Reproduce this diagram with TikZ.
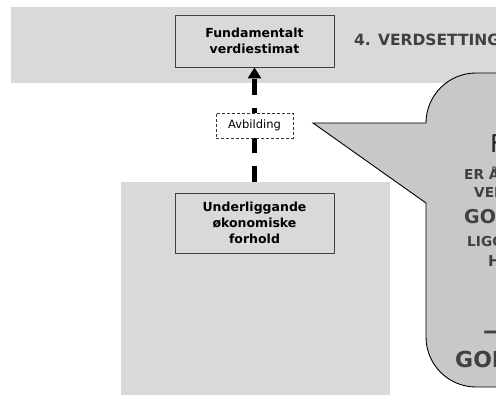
\documentclass[tikz,border=0pt]{standalone}
\usepackage{fontspec}
\setmainfont{DejaVu Sans}
\usetikzlibrary{arrows.meta}
\definecolor{band}{RGB}{217,217,217}
\definecolor{bubble}{RGB}{200,200,200}
\definecolor{txt}{RGB}{64,64,64}
\definecolor{edge}{RGB}{64,64,64}
\tikzset{
  panel/.style={fill=band, draw=none},
  stepbox/.style={draw=edge, line width=0.9pt, fill=band, minimum width=159pt,
    inner sep=0pt, align=center, font=\bfseries\fontsize{12.5}{16}\selectfont},
  tag/.style={draw=black!80, line width=0.8pt, dash pattern=on 3pt off 2pt, fill=white,
    minimum width=77pt, minimum height=25pt, inner sep=0pt, font=\fontsize{11.5}{14}\selectfont},
  ctext/.style={anchor=base west, inner sep=0pt, text=txt, font=\bfseries\fontsize{#1}{#1}\selectfont},
  flow/.style={line width=4.5pt, dash pattern=on 16pt off 13pt, dash phase=18pt,
    -{Triangle[length=11pt,width=13pt]}},
  bubblestyle/.style={draw=black, line width=0.9pt, fill=bubble}
}
\begin{document}
\begin{tikzpicture}[x=1pt,y=-1pt]
\useasboundingbox (0,0) rectangle (496,396);
\clip (0,0) rectangle (496,396);
% bands
\fill[panel] (11,7) rectangle (500,83);
\fill[panel] (121,182) rectangle (390,395);
% boxes
\node[stepbox, minimum height=52pt] (fund) at (254.5,41) {Fundamentalt\\verdiestimat};
\node[stepbox, minimum height=60pt] (under) at (254.5,223) {Underliggande\\økonomiske\\forhold};
\node[anchor=base west, inner sep=0pt, text=txt, font=\bfseries\fontsize{15.5}{18}\selectfont] (title) at (354,46) {4. VERDSETTING};
% arrow
\draw[flow] (under.north) -- (fund.south);
\node[tag] (avb) at (254.5,125.5) {Avbilding};
% callout
\draw[bubblestyle] (426,203) -- (313,123) -- (426,123)
  .. controls (426,95.4) and (448.4,73) .. (476,73) -- (600,73) -- (600,387) -- (476,387)
  .. controls (448.4,387) and (426,364.6) .. (426,337) -- cycle;
\node[anchor=base west, inner sep=0pt, text=black!85, font=\fontsize{24.5}{25}\selectfont] (c1) at (490,153) {FORMÅL};
\node[ctext=13.7] (c2) at (464,179) {ER Å ANSLÅ};
\node[ctext=13.7] (c3) at (474,197) {VERDIEN};
\node[ctext=19] (c4) at (464,223) {GODE};
\node[ctext=13.7] (c5) at (467,246) {LIGGANDE};
\node[ctext=15] (c6) at (488,266) {HANDLINGAR};
\node[ctext=22] (c7) at (483,338) {—};
\node[ctext=22] (c8) at (455,367) {GODE};
\end{tikzpicture}
\end{document}
